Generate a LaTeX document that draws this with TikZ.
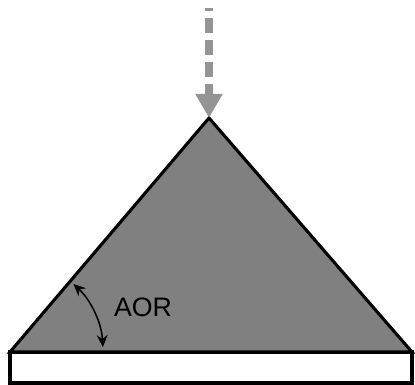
\documentclass[tikz,border=0pt]{standalone}
\usepackage{fontspec}
\setmainfont{Liberation Sans}
\usetikzlibrary{arrows.meta, calc}

\begin{document}
\begin{tikzpicture}[
    x=0.025cm, y=0.025cm,
    >=Stealth,
    pile/.style={draw=black, line width=2.2pt, fill=black!50, line join=miter},
    plate/.style={draw=black, line width=2.2pt, fill=white},
    feed/.style={-{Triangle[length=0.6cm, width=0.64cm]}, line width=5pt, black!42,
                 dash pattern=on 10.67pt off 4.98pt, dash phase=8.5pt},
    angle/.style={{Stealth[length=0.3cm, width=0.27cm]}-{Stealth[length=0.3cm, width=0.27cm]}, line width=1.1pt},
    label/.style={font=\fontsize{19}{22}\selectfont}
]
\useasboundingbox (0,0) rectangle (415,385);

% Corners of the pile
\coordinate (left) at (10,33);
\coordinate (right) at (412,33);
\coordinate (apex) at (209,267);
\coordinate (top) at (209,377);

% Base plate
\draw[plate] (10,2) rectangle (412,33);

% Heap
\draw[pile] (left) -- (apex) -- (right) -- cycle;

% Pouring direction
\draw[feed] (top) -- (apex);

% Angle of repose
\draw[angle] ($(left)+(47:93)$) arc[start angle=47, end angle=3, radius=93];
\node[label] (aor) at (143,78) {AOR};
\end{tikzpicture}
\end{document}
